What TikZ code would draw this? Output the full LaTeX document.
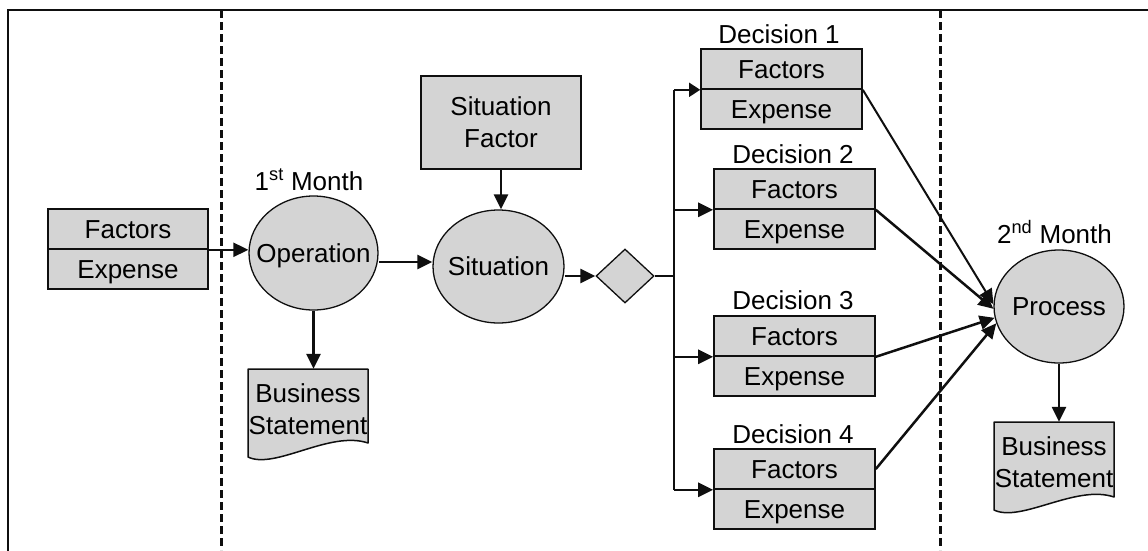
\documentclass[tikz,border=0pt]{standalone}
\usepackage{fontspec}
\setmainfont{Liberation Sans}
\usetikzlibrary{shapes.geometric,arrows.meta}

\definecolor{shade}{RGB}{212,212,212}
\definecolor{ink}{RGB}{15,15,15}

\tikzset{
  txt/.style={font=\fontsize{26}{32}\selectfont, text=black, inner sep=0pt},
  half/.style={txt, draw=ink, line width=1.6pt, fill=shade, rectangle,
               minimum height=40pt, text height=18.6pt, text depth=0pt},
  oval/.style={draw=ink, line width=1.3pt, fill=shade, ellipse, inner sep=0pt},
  docbody/.style={draw=ink, line width=1.5pt, fill=shade, line join=round},
  arr/.style={draw=ink, line width=2.5pt, -{Triangle[length=15pt,width=14pt]}},
  arrthin/.style={draw=ink, line width=1.5pt, -{Triangle[length=11pt,width=14pt]}},
  thinln/.style={draw=ink, line width=1.5pt},
  sep/.style={draw=ink, line width=3pt, dash pattern=on 8pt off 4pt},
  frame/.style={draw=ink, line width=2.4pt}
}

\begin{document}
\begin{tikzpicture}[x=1pt, y=-1pt]
\useasboundingbox (0,0) rectangle (1148,550);

% outer frame and period separators
\draw[frame] (8,560) -- (8,10) -- (1160,10);
\draw[sep] (221,10) -- (221,550);
\draw[sep] (940,10) -- (940,550);

% initial factors
\node[half, minimum width=160pt] (f0) at (128,229) {Factors};
\node[half, minimum width=160pt] (e0) at (128,269) {Expense};

% first month
\node[oval, minimum width=129pt, minimum height=114pt] (op) at (313.5,253) {};
\node[txt, text height=18.6pt, text depth=0pt] (opt) at (op) {Operation};
\node[txt, anchor=base] (m1) at (309,190) {1\textsuperscript{st} Month};

\begin{scope}[shift={(248,369)}]
  \path[docbody] (0,0) -- (120,0) -- (120,74) .. controls (82,61) and (27,101) .. (0,88) -- cycle;
  \node[txt, minimum width=120pt, minimum height=74pt] (bs1) at (60,37) {};
  \node[txt, align=center] (bs1t) at (60,40) {Business\\Statement};
\end{scope}

% situation
\node[txt, draw=ink, line width=1.6pt, fill=shade, rectangle, align=center,
      minimum width=160pt, minimum height=93pt] (sf) at (501,122.5) {Situation\\Factor};
\node[oval, minimum width=131pt, minimum height=113pt] (sit) at (498.5,266.5) {};
\node[txt, text height=18.6pt, text depth=0pt] (sitt) at (sit) {Situation};
\node[diamond, draw=ink, line width=1.3pt, fill=shade, inner sep=0pt, aspect=1.07,
      minimum width=58pt, minimum height=54pt] (dia) at (625,276) {};
\coordinate (jn) at (674,276);

% decisions
\node[half, minimum width=161pt] (f1) at (781.5,69) {Factors};
\node[half, minimum width=161pt] (e1) at (781.5,109) {Expense};
\node[txt, anchor=base] (d1) at (779,43) {Decision 1};

\node[half, minimum width=161pt] (f2) at (794.5,189) {Factors};
\node[half, minimum width=161pt] (e2) at (794.5,229) {Expense};
\node[txt, anchor=base] (d2) at (793,163) {Decision 2};

\node[half, minimum width=161pt] (f3) at (794.5,336) {Factors};
\node[half, minimum width=161pt] (e3) at (794.5,376) {Expense};
\node[txt, anchor=base] (d3) at (793,309) {Decision 3};

\node[half, minimum width=161pt] (f4) at (794.5,469) {Factors};
\node[half, minimum width=161pt] (e4) at (794.5,509) {Expense};
\node[txt, anchor=base] (d4) at (793,443) {Decision 4};

% second month
\node[oval, minimum width=130pt, minimum height=113pt] (proc) at (1059,306.5) {};
\node[txt, text height=18.6pt, text depth=0pt] (proct) at (proc) {Process};
\node[txt, anchor=base] (m2) at (1054.5,243) {2\textsuperscript{nd} Month};

\begin{scope}[shift={(994,422)}]
  \path[docbody] (0,0) -- (120,0) -- (120,75) .. controls (82,62) and (27,101) .. (0,88) -- cycle;
  \node[txt, minimum width=120pt, minimum height=75pt] (bs2) at (60,37.5) {};
  \node[txt, align=center] (bs2t) at (60,40) {Business\\Statement};
\end{scope}

% connectors
\draw[arr] (f0.south east) -- (f0.south east -| op.west);
\draw[arr] (op.south) -- (op.south |- bs1.north);
\draw[arr] ([yshift=-9pt]op.east) -- ([yshift=-9pt]op.east -| sit.west);
\draw[arr] (sf.south) -- (sf.south |- sit.north);
\draw[arr] (sit.east |- dia.west) -- (dia.west);

\draw[thinln] (dia.east) -- (jn);
\draw[thinln] (jn |- f1.south west) -- (jn |- f4.south west);
\draw[arrthin] (jn |- f1.south west) -- (f1.south west);
\draw[arr] (jn |- f2.south west) -- (f2.south west);
\draw[arr] (jn |- f3.south west) -- (f3.south west);
\draw[arr] (jn |- f4.south west) -- (f4.south west);

\draw[arr, line width=2pt] (f1.south east) -- (proc.178);
\draw[arr] (f2.south east) -- (proc.182);
\draw[arr] (f3.south east) -- (proc.190);
\draw[arr] (f4.east) -- (proc.195);

\draw[arr] (proc.south) -- (proc.south |- bs2.north);
\end{tikzpicture}
\end{document}
